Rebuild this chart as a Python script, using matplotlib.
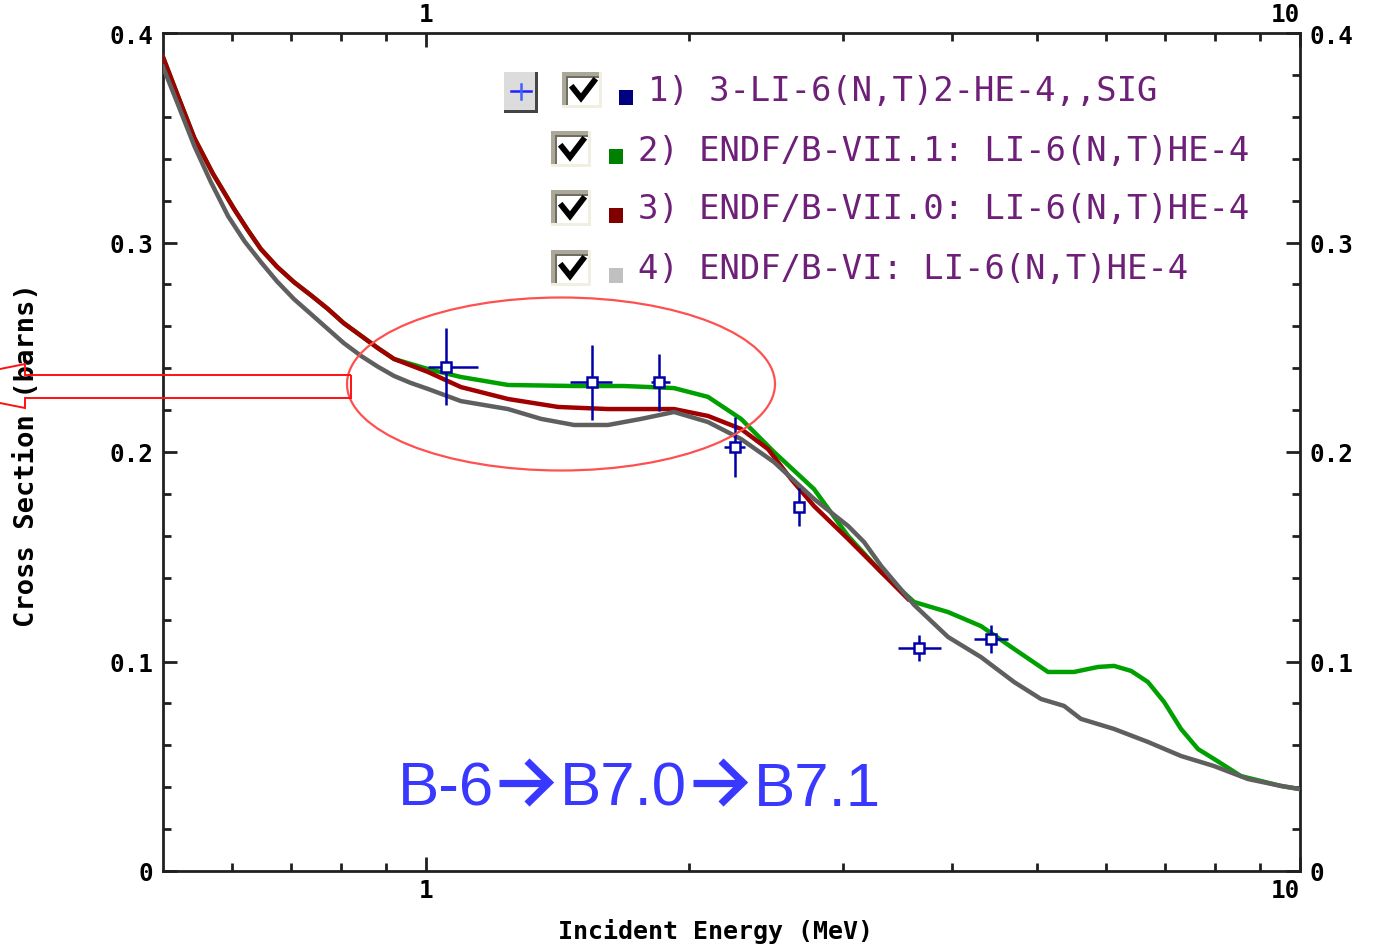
import matplotlib
matplotlib.use("Agg")
import matplotlib.pyplot as plt
from matplotlib.patches import Rectangle, Ellipse, Polygon
from matplotlib.lines import Line2D
import matplotlib.ticker as mticker

# ---------------- data ----------------
# 4) ENDF/B-VI (gray)
e_b6 = [0.50, 0.52, 0.543, 0.567, 0.5935, 0.62, 0.647, 0.675, 0.706, 0.74, 0.772,
        0.805, 0.843, 0.88, 0.919, 0.96, 1.005, 1.096,
        1.241, 1.354, 1.477, 1.615, 1.762, 1.922, 2.102, 2.293, 2.501, 2.779,
        3.040, 3.171, 3.317, 3.618, 3.956, 4.315, 4.708, 5.054, 5.370, 5.615,
        6.127, 6.699, 7.309, 7.972, 8.719, 9.512, 10.0]
s_b6 = [0.3838, 0.3660, 0.3461, 0.3290, 0.3126, 0.3005, 0.2907, 0.2815, 0.2730, 0.2655, 0.2587,
        0.2520, 0.2458, 0.2408, 0.2363, 0.2330, 0.2301, 0.2243,
        0.2205, 0.2158, 0.2129, 0.2129, 0.2158, 0.2191, 0.2143, 0.2062, 0.1952, 0.1776,
        0.1647, 0.1570, 0.1456, 0.1270, 0.1117, 0.1021, 0.0902, 0.0821, 0.0788, 0.0726,
        0.0678, 0.0616, 0.0549, 0.0501, 0.0439, 0.0406, 0.0391]

# 3) ENDF/B-VII.0 (dark red)
e_b70 = [0.50, 0.52, 0.543, 0.57, 0.603, 0.625, 0.647, 0.675, 0.706, 0.74, 0.772,
         0.805, 0.843, 0.88, 0.919, 1.005, 1.096,
         1.241, 1.416, 1.615, 1.922, 2.102, 2.293, 2.462, 2.616, 2.779, 3.040,
         3.317, 3.561]
s_b70 = [0.3885, 0.3700, 0.3499, 0.3330, 0.3160, 0.3060, 0.2969, 0.2885, 0.2811, 0.2745, 0.2683,
         0.2615, 0.2554, 0.2497, 0.2444, 0.2382, 0.2310,
         0.2253, 0.2215, 0.2205, 0.2205, 0.2172, 0.2110, 0.2014, 0.1871, 0.1742, 0.1585,
         0.1427, 0.1298]

# 2) ENDF/B-VII.1 (green)
e_b71 = [0.50, 0.52, 0.543, 0.57, 0.603, 0.625, 0.647, 0.675, 0.706, 0.74, 0.772,
         0.805, 0.843, 0.88, 0.919, 1.005, 1.096,
         1.241, 1.477, 1.685, 1.922, 2.102, 2.293, 2.501, 2.779, 3.040, 3.317,
         3.618, 3.956, 4.315, 4.708, 5.148, 5.512, 5.874, 6.127, 6.409, 6.699,
         6.990, 7.309, 7.644, 7.972, 8.560, 9.512, 10.0]
s_b71 = [0.3885, 0.3700, 0.3499, 0.3330, 0.3160, 0.3060, 0.2969, 0.2885, 0.2811, 0.2745, 0.2683,
         0.2615, 0.2554, 0.2497, 0.2444, 0.2396, 0.2358,
         0.2320, 0.2315, 0.2315, 0.2305, 0.2263, 0.2158, 0.2000, 0.1823, 0.1599, 0.1427,
         0.1284, 0.1236, 0.1169, 0.1060, 0.0950, 0.0950, 0.0974, 0.0979, 0.0955, 0.0902,
         0.0807, 0.0678, 0.0582, 0.0535, 0.0453, 0.0406, 0.0391]

# 1) EXFOR 3-LI-6(N,T)2-HE-4,,SIG
exp_e = [1.054, 1.549, 1.847, 2.257, 2.672, 3.665, 4.430]
exp_s = [0.2406, 0.2334, 0.2334, 0.2024, 0.1737, 0.1064, 0.1107]
exp_e_lo = [1.005, 1.461, 1.809, 2.193, 2.650, 3.467, 4.236]
exp_e_hi = [1.147, 1.632, 1.902, 2.317, 2.700, 3.884, 4.630]
exp_ds = [0.0184, 0.0179, 0.0136, 0.0144, 0.0089, 0.0062, 0.0065]

legend_labels = ["1) 3-LI-6(N,T)2-HE-4,,SIG",
                 "2) ENDF/B-VII.1: LI-6(N,T)HE-4",
                 "3) ENDF/B-VII.0: LI-6(N,T)HE-4",
                 "4) ENDF/B-VI: LI-6(N,T)HE-4"]
legend_colors = ["#000080", "#008000", "#800000", "#c0c0c0"]

note_parts = ["B-6", "B7.0", "B7.1"]

y_ticks = [0.0, 0.1, 0.2, 0.3, 0.4]
y_ticklabels = ["0", "0.1", "0.2", "0.3", "0.4"]
x_ticks = [1, 10]
x_ticklabels = ["1", "10"]

# ---------------- figure ----------------
W, H = 1376, 945
fig = plt.figure(figsize=(W / 100, H / 100), dpi=100)
fig.patch.set_facecolor("white")

L, R, T, B = 163, 1300, 34, 872
ax = fig.add_axes([L / W, 1 - B / H, (R - L) / W, (B - T) / H])
ax.set_xscale("log")
ax.set_xlim(0.5, 10)
ax.set_ylim(0, 0.4)

ax.plot(e_b71, s_b71, color="#00a000", lw=3.2, zorder=3)
ax.plot(e_b70, s_b70, color="#a00000", lw=3.2, zorder=4)
ax.plot(e_b6, s_b6, color="#5f5f5f", lw=3.2, zorder=5)

xerr = [[e - lo for e, lo in zip(exp_e, exp_e_lo)], [hi - e for e, hi in zip(exp_e, exp_e_hi)]]
ax.errorbar(exp_e, exp_s, xerr=xerr, yerr=exp_ds, fmt="s", ms=7, mfc="white",
            mec="#0000a8", mew=1.8, ecolor="#0000a8", elinewidth=1.8, capsize=0, zorder=6)

tick_font = dict(family=["DejaVu Sans Mono"], weight="bold", size=17.5)
ax.set_xticks(x_ticks)
ax.set_xticklabels(x_ticklabels, fontdict=tick_font)
ax.xaxis.set_minor_locator(mticker.FixedLocator([0.6, 0.7, 0.8, 0.9, 2, 3, 4, 5, 6, 7, 8, 9]))
ax.xaxis.set_minor_formatter(mticker.NullFormatter())
ax.set_yticks(y_ticks)
ax.set_yticklabels(y_ticklabels, fontdict=tick_font)
ax.yaxis.set_minor_locator(mticker.MultipleLocator(0.02))

ax.tick_params(which="both", direction="in", top=True, right=True,
               labeltop=True, labelright=True, color="#202020", width=2)
ax.tick_params(which="major", length=10)
ax.tick_params(which="minor", length=5.5)
ax.tick_params(axis="x", pad=5)
ax.tick_params(axis="y", pad=7)
for tk in ax.xaxis.get_major_ticks():
    if tk.label2.get_text() == "10":
        tk.label2.set_horizontalalignment("right")
    if tk.label1.get_text() == "10":
        tk.label1.set_horizontalalignment("right")
for sp in ax.spines.values():
    sp.set_linewidth(2)
    sp.set_color("#202020")

# axis titles
fig.text(715 / W, 1 - 932 / H, "Incident Energy (MeV)", ha="center", va="center",
         family=["DejaVu Sans Mono"], weight="bold", size=18)
fig.text(27 / W, 1 - 455 / H, "Cross Section (barns)", ha="center", va="center",
         rotation=90, family=["DejaVu Sans Mono"], weight="bold", size=19.5)

# ---------------- overlay (pixel coordinates) ----------------
ov = fig.add_axes([0, 0, 1, 1], zorder=10)
ov.set_xlim(0, W)
ov.set_ylim(H, 0)
ov.axis("off")
ov.patch.set_alpha(0)

def checkbox(x0, y0, w=40, h=36):
    ov.add_patch(Rectangle((x0, y0), w, h, facecolor="#f1efe2", edgecolor="none"))
    ov.add_patch(Rectangle((x0, y0), w - 3, h - 3, facecolor="#aca899", edgecolor="none"))
    ov.add_patch(Rectangle((x0 + 4, y0 + 4), w - 7, h - 7, facecolor="#716f64", edgecolor="none"))
    ov.add_patch(Rectangle((x0 + 6, y0 + 6), w - 9, h - 9, facecolor="white", edgecolor="none"))
    ov.add_line(Line2D([x0 + 11, x0 + 19, x0 + 32], [y0 + 16, y0 + 26, y0 + 9],
                       color="black", lw=4.2, solid_joinstyle="miter"))

# "+" button
ov.add_patch(Rectangle((504, 73), 34, 41, facecolor="#454545", edgecolor="none"))
ov.add_patch(Rectangle((504, 73), 31, 38, facecolor="#dcdcdc", edgecolor="none"))
ov.add_line(Line2D([511, 531], [92, 92], color="#2020ff", lw=1.8))
ov.add_line(Line2D([521, 521], [85, 100], color="#4060ff", lw=1.8))

rows_y = [92, 151, 210, 270]
box_x = [562, 551, 551, 551]
sq_x = [619, 609, 609, 609]
txt_x = [648, 638, 638, 638]
for yy, bx, sx, tx, lab, col in zip(rows_y, box_x, sq_x, txt_x, legend_labels, legend_colors):
    checkbox(bx, yy - 19)
    ov.add_patch(Rectangle((sx, yy - 1), 14, 15, facecolor=col, edgecolor="none"))
    ov.text(tx, yy, lab, ha="left", va="center", family=["DejaVu Sans Mono"],
            size=24.4, color="#6e1f78")

# red ellipse and arrow annotation
ov.add_patch(Ellipse((561, 385), 428, 173, facecolor="none", edgecolor="#ff5050", lw=1.6))
ov.add_patch(Polygon([(351, 376), (25, 376), (25, 365), (-85, 387), (25, 409),
                      (25, 399), (351, 399)], closed=True, facecolor="none",
                     edgecolor="#ff1010", lw=1.4))

# "B-6 -> B7.0 -> B7.1" note, with drawn chevron arrows
note_color = "#3838ff"
part_x = [398, 560, 754]
for px_, txt in zip(part_x, note_parts):
    ov.text(px_, 806, txt, ha="left", va="baseline",
            family=["Liberation Sans", "DejaVu Sans"], size=44.5, color=note_color)
for ax0 in [499, 693]:
    ov.add_line(Line2D([ax0, ax0 + 50], [783.5, 783.5], color=note_color, lw=5.2,
                       solid_capstyle="butt"))
    ov.add_line(Line2D([ax0 + 28, ax0 + 50, ax0 + 28], [762, 783.5, 805], color=note_color,
                       lw=5.2, solid_joinstyle="miter", solid_capstyle="butt"))

fig.savefig("out.png", dpi=100, facecolor="white")
